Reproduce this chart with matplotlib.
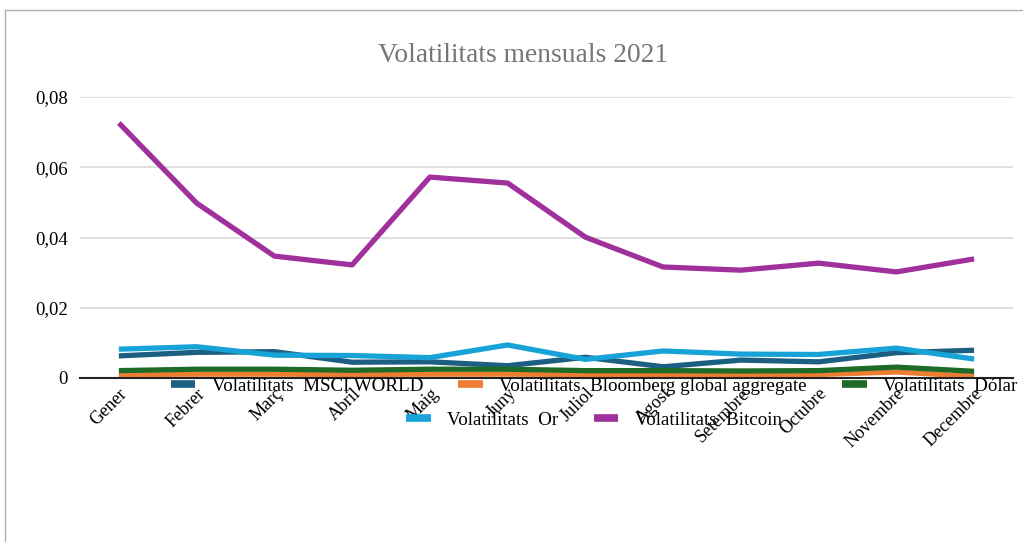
import matplotlib
matplotlib.use("Agg")
import matplotlib.pyplot as plt
from matplotlib.lines import Line2D
from matplotlib.ticker import FuncFormatter

months = ["Gener", "Febrer", "Març", "Abril", "Maig", "Juny", "Juliol",
          "Agost", "Setembre", "Octubre", "Novembre", "Decembre"]
msci = [0.0063, 0.0073, 0.0075, 0.0045, 0.0046, 0.0035, 0.0059, 0.0032, 0.0051, 0.0046, 0.0072, 0.0079]
bloomberg = [0.0010, 0.0011, 0.0011, 0.0010, 0.0011, 0.0011, 0.0010, 0.0010, 0.0010, 0.0010, 0.0017, 0.0005]
dolar = [0.0021, 0.0025, 0.0025, 0.0022, 0.0025, 0.0025, 0.0021, 0.0021, 0.0020, 0.0021, 0.0031, 0.0019]
gold = [0.0082, 0.0089, 0.0065, 0.0064, 0.0058, 0.0094, 0.0053, 0.0077, 0.0068, 0.0067, 0.0085, 0.0054]
bitcoin = [0.0726, 0.0498, 0.0347, 0.0322, 0.0572, 0.0555, 0.0401, 0.0316, 0.0307, 0.0327, 0.0302, 0.0339]

series = [
    ("Volatilitats  MSCI WORLD", msci, "#1d5f82"),
    ("Volatilitats  Bloomberg global aggregate", bloomberg, "#ed7d31"),
    ("Volatilitats  Dólar", dolar, "#1e6b28"),
    ("Volatilitats  Or", gold, "#17a2d8"),
    ("Volatilitats  Bitcoin", bitcoin, "#a0309b"),
]

plt.rcParams['font.family'] = ['Liberation Serif', 'DejaVu Serif']

fig = plt.figure(figsize=(10.23, 5.42), dpi=100)
ax = fig.add_axes([80/1023, 1-378/542, 933/1023, 281/542])

x = list(range(len(months)))
handles = []
for label, vals, color in series:
    ln, = ax.plot(x, vals, color=color, lw=3.8, solid_capstyle='butt', solid_joinstyle='round', label=label)
    handles.append(ln)

ax.set_xlim(-0.5, len(months) - 0.5)
ax.set_ylim(0, 0.08)
ax.set_yticks([0, 0.02, 0.04, 0.06, 0.08])
ax.yaxis.set_major_formatter(FuncFormatter(lambda v, p: "0" if v == 0 else f"{v:.2f}".replace(".", ",")))
ax.grid(axis='y', color='#d9d9d9', lw=1.2)
ax.set_axisbelow(True)
for s in ['top', 'right', 'left']:
    ax.spines[s].set_visible(False)
ax.spines['bottom'].set_color('#222222')
ax.spines['bottom'].set_linewidth(1.5)
ax.tick_params(axis='both', length=0, colors='black')
ax.tick_params(axis='y', pad=9, labelsize=13.5)
ax.set_xticks(x)
ax.set_xticklabels(months, rotation=45, ha='right', rotation_mode='anchor', fontsize=13)
ax.tick_params(axis='x', pad=5)

fig.text(523/1023, 1-55/542, "Volatilitats mensuals 2021", ha='center', va='center',
         fontsize=19.8, color='#767676')

leg_kw = dict(frameon=False, fontsize=13.7, handlelength=1.3, handletextpad=0.85,
              columnspacing=1.85, borderpad=0, borderaxespad=0, loc='center',
              bbox_transform=fig.transFigure)
leg_handles = [Line2D([], [], color=h.get_color(), lw=5.5, solid_capstyle='butt') for h in handles]
labels = [h.get_label() for h in handles]
fig.legend(leg_handles[:3], labels[:3], ncol=3, bbox_to_anchor=(594/1023, 1-386/542), **leg_kw)
fig.legend(leg_handles[3:], labels[3:], ncol=2, bbox_to_anchor=(594/1023, 1-420/542), **leg_kw)

# figure border (top and left visible)
fig.add_artist(Line2D([5/1023, 5/1023], [0, 1-10/542], transform=fig.transFigure, color='#b0b0b0', lw=1))
fig.add_artist(Line2D([5/1023, 1], [1-10/542, 1-10/542], transform=fig.transFigure, color='#b0b0b0', lw=1))

fig.savefig("out.png", dpi=100)
